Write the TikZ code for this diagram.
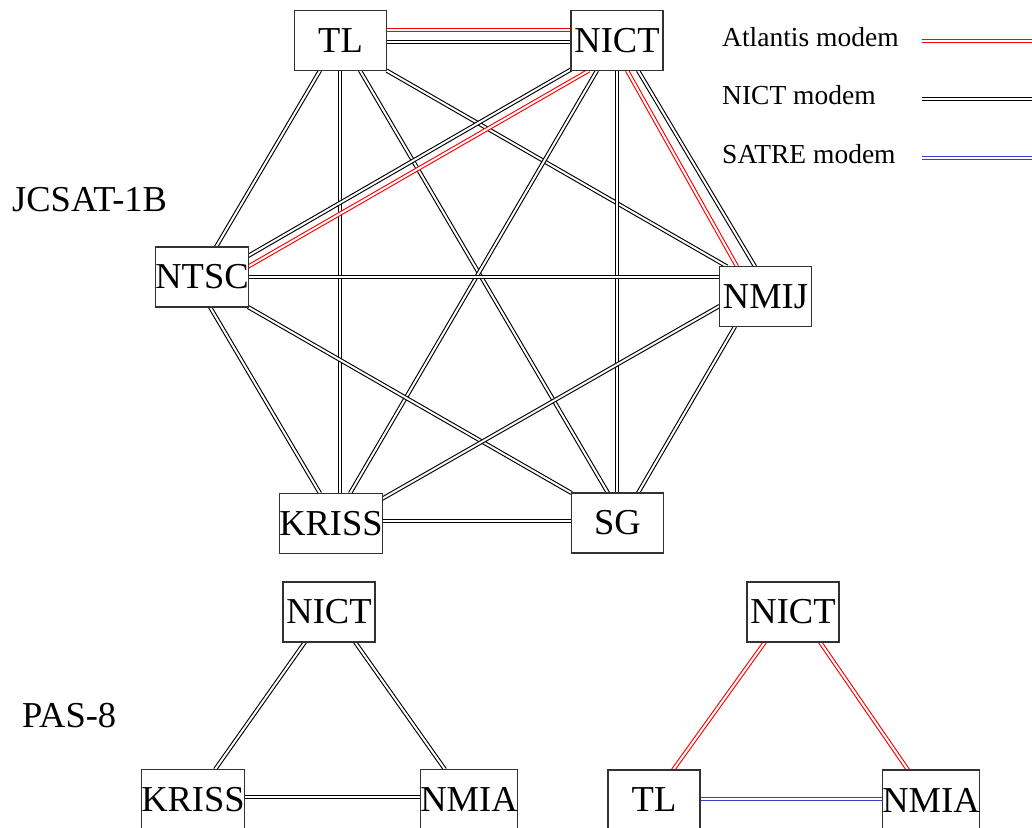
\documentclass[tikz,border=0pt]{standalone}
\usepackage{fontspec}
\setmainfont{Liberation Serif}
\usetikzlibrary{calc,backgrounds}
\definecolor{satreblue}{RGB}{60,60,200}
\definecolor{boxgray}{RGB}{50,50,50}
\tikzset{
 site/.style={draw=boxgray, line width=1.1pt, fill=white, minimum width=92pt, minimum height=60pt, inner sep=0pt, font=\fontsize{36.5}{44}\selectfont},
 nictlink/.style={draw=black, double=white, line width=1.1pt, double distance=2pt},
 atllink/.style={draw=red, double=white, line width=1.1pt, double distance=2pt},
 satrelink/.style={draw=satreblue, double=white, line width=1.1pt, double distance=2pt},
 satlabel/.style={anchor=base west, inner sep=0pt, font=\fontsize{36.5}{44}\selectfont},
 legtext/.style={anchor=base west, inner sep=0pt, font=\fontsize{27.5}{33}\selectfont},
}
\begin{document}
\begin{tikzpicture}[x=1pt,y=-1pt]
\useasboundingbox (0,0) rectangle (1032,827);

% JCSAT-1B network
\node[site] (TL)    at (340.5,40.5) {TL};
\node[site] (NICT)  at (617,40.5)   {NICT};
\node[site] (NTSC)  at (202,277)    {NTSC};
\node[site] (NMIJ)  at (765.5,296.5){NMIJ};
\node[site] (KRISS) at (331,523.3)  {KRISS};
\node[site] (SG)    at (617.5,523)  {SG};

% PAS-8 networks
\node[site] (NICTb)  at (329,612)   {NICT};
\node[site] (KRISSb) at (193,799.5) {KRISS};
\node[site] (NMIAb)  at (469,799.5) {NMIA};
\node[site] (NICTc)  at (793,612)   {NICT};
\node[site] (TLc)    at (654,800)   {TL};
\node[site] (NMIAc)  at (931,800)   {NMIA};

% satellite labels
\node[satlabel] (jcsat) at (12,211) {JCSAT-1B};
\node[satlabel] (pas) at (22,727) {PAS-8};

% legend
\node[legtext] (lg1) at (722,46)  {Atlantis modem};
\node[legtext] (lg2) at (722,104) {NICT modem};
\node[legtext] (lg3) at (722,163) {SATRE modem};
\coordinate (A1) at (922,41);  \coordinate (A2) at (1034,41);
\coordinate (B1) at (922,99);  \coordinate (B2) at (1034,99);
\coordinate (C1) at (922,158); \coordinate (C2) at (1034,158);

\begin{pgfonlayer}{background}
\draw[atllink]   (A1) -- (A2);
\draw[nictlink]  (B1) -- (B2);
\draw[satrelink] (C1) -- (C2);

% JCSAT-1B links
\draw[atllink]  ($(TL)+(46,-10.5)$) -- ($(NICT)+(-46,-10.5)$);
\draw[nictlink] ($(TL)+(46,1.5)$)   -- ($(NICT)+(-46,1.5)$);
\draw[nictlink] ($(TL)+(-20.5,30)$) -- ($(NTSC)+(14,-30)$);
\draw[nictlink] ($(TL)+(-0.5,30)$)  -- ($(KRISS)+(9,-30)$);
\draw[nictlink] ($(TL)+(19.5,30)$)  -- ($(SG)+(-9.5,-30)$);
\draw[nictlink] ($(TL)+(46,30)$)    -- ($(NMIJ)+(-38.5,-30)$);
\draw[nictlink] ($(NICT)+(-46,29)$) -- ($(NTSC)+(46,-21)$);
\draw[atllink]  ($(NICT)+(-28,30)$) -- ($(NTSC)+(46,-10.3)$);
\draw[nictlink] ($(NICT)+(-20,30)$) -- ($(KRISS)+(19,-30)$);
\draw[nictlink] ($(NICT)+(0,30)$)   -- ($(SG)+(-0.5,-30)$);
\draw[atllink]  ($(NICT)+(10,30)$)  -- ($(NMIJ)+(-28.5,-30)$);
\draw[nictlink] ($(NICT)+(21,30)$)  -- ($(NMIJ)+(-10.5,-30)$);
\draw[nictlink] ($(NTSC)+(46,-0.3)$) -- ($(NMIJ)+(-46,-19.8)$);
\draw[nictlink] ($(NTSC)+(8,30)$)   -- ($(KRISS)+(-11,-30)$);
\draw[nictlink] ($(NTSC)+(46,30)$)  -- ($(SG)+(-46,-30)$);
\draw[nictlink] ($(NMIJ)+(-46,9.5)$) -- ($(KRISS)+(46,-21.6)$);
\draw[nictlink] ($(NMIJ)+(-30.5,30)$) -- ($(SG)+(20.5,-30)$);
\draw[nictlink] ($(KRISS)+(46,-2.3)$) -- ($(SG)+(-46,-2)$);

% PAS-8 links, NICT modem
\draw[nictlink] ($(NICTb)+(-24,30)$) -- ($(KRISSb)+(22,-30)$);
\draw[nictlink] ($(NICTb)+(26,30)$)  -- ($(NMIAb)+(-24,-30)$);
\draw[nictlink] ($(KRISSb)+(46,-2.8)$) -- ($(NMIAb)+(-46,-2.8)$);

% PAS-8 links, Atlantis and SATRE
\draw[atllink]   ($(NICTc)+(-28,30)$) -- ($(TLc)+(19,-30)$);
\draw[atllink]   ($(NICTc)+(27,30)$)  -- ($(NMIAc)+(-23,-30)$);
\draw[satrelink] ($(TLc)+(46,-1)$)    -- ($(NMIAc)+(-46,-1)$);
\end{pgfonlayer}
\end{tikzpicture}
\end{document}
